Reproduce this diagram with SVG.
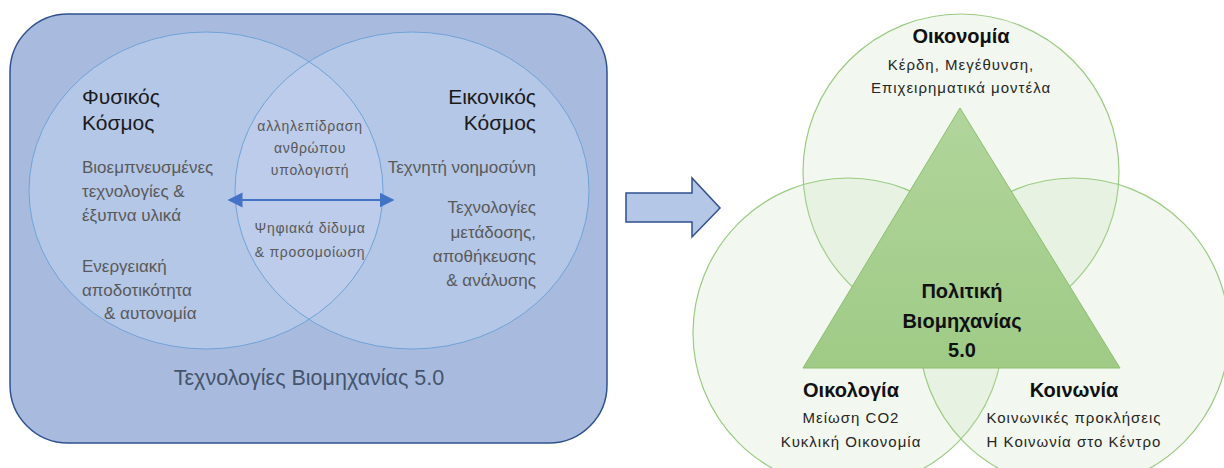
<svg xmlns="http://www.w3.org/2000/svg" width="1224" height="468" viewBox="0 0 1224 468">
<style>
text{font-family:"Liberation Sans",Arial,sans-serif}
.h{font-size:21px;fill:#1a1a1a}
.g{font-size:17px;fill:#595959}
.l{font-size:14px;fill:#595959;letter-spacing:0.7px}
.hb{font-size:20px;font-weight:bold;fill:#111}
.s{font-size:15px;fill:#262626;letter-spacing:1px}
.ell{fill:#B4C7E7}
.ellS{fill:none;stroke:#6FA3D8;stroke-width:1}
.gc{fill:#C5E0B4;fill-opacity:0.22;stroke:#9ACB82;stroke-width:1.2}
</style>
<defs>
<clipPath id="clipL"><ellipse cx="206" cy="190.5" rx="177" ry="158.5"/></clipPath>
<marker id="ah" viewBox="0 0 10 10" refX="9" refY="5" markerWidth="7.5" markerHeight="8" orient="auto-start-reverse"><path d="M0,0 L10,5 L0,10 z" fill="#4472C4"/></marker>
<linearGradient id="tri" x1="0" y1="0" x2="0" y2="1"><stop offset="0" stop-color="#B1D59B"/><stop offset="1" stop-color="#9FCB86"/></linearGradient>
</defs>

<g id="industry-technologies">
<rect x="10" y="14" width="597" height="429" rx="58" ry="58" fill="#A8BBDF" stroke="#2F528F" stroke-width="1.5"/>
<text x="309" y="385" text-anchor="middle" style="font-size:21.5px;fill:#44546A">Τεχνολογίες Βιομηχανίας 5.0</text>
</g>

<g id="physical-world">
<ellipse class="ell" cx="206" cy="190.5" rx="177" ry="158.5"/>
</g>
<g id="virtual-world">
<ellipse class="ell" cx="412" cy="190.5" rx="177" ry="158.5"/>
</g>
<g id="intersection">
<ellipse cx="412" cy="190.5" rx="177" ry="158.5" fill="#BCCCEA" clip-path="url(#clipL)"/>
<ellipse class="ellS" cx="206" cy="190.5" rx="177" ry="158.5"/>
<ellipse class="ellS" cx="412" cy="190.5" rx="177" ry="158.5"/>
</g>

<g id="physical-world-text">
<text class="h" x="82" y="104">Φυσικός</text>
<text class="h" x="82" y="130">Κόσμος</text>
<text class="g" x="82" y="173">Βιοεμπνευσμένες</text>
<text class="g" x="82" y="197">τεχνολογίες &amp;</text>
<text class="g" x="82" y="221">έξυπνα υλικά</text>
<text class="g" x="82" y="272">Ενεργειακή</text>
<text class="g" x="82" y="296">αποδοτικότητα</text>
<text class="g" x="104" y="319">&amp; αυτονομία</text>
</g>

<g id="virtual-world-text" text-anchor="end">
<text class="h" x="536" y="104">Εικονικός</text>
<text class="h" x="536" y="130">Κόσμος</text>
<text class="g" x="536" y="173">Τεχνητή νοημοσύνη</text>
<text class="g" x="536" y="213">Τεχνολογίες</text>
<text class="g" x="536" y="238">μετάδοσης,</text>
<text class="g" x="536" y="262">αποθήκευσης</text>
<text class="g" x="536" y="286">&amp; ανάλυσης</text>
</g>

<g id="intersection-text" text-anchor="middle">
<text class="l" x="310" y="131">αλληλεπίδραση</text>
<text class="l" x="310" y="153">ανθρώπου</text>
<text class="l" x="310" y="175">υπολογιστή</text>
<text class="l" x="310" y="233">Ψηφιακά δίδυμα</text>
<text class="l" x="310" y="257">&amp; προσομοίωση</text>
</g>

<g id="connectors">
<line x1="229" y1="200" x2="393" y2="200" stroke="#4472C4" stroke-width="2" marker-start="url(#ah)" marker-end="url(#ah)"/>
<path d="M626,193 L692,193 L692,178 L720,208 L692,237 L692,222 L626,222 Z" fill="#B4C7E7" stroke="#2F528F" stroke-width="1.5" stroke-linejoin="miter"/>
</g>

<g id="economy">
<circle class="gc" cx="961" cy="172" r="158"/>
</g>
<g id="ecology">
<circle class="gc" cx="848" cy="333" r="155"/>
</g>
<g id="society">
<circle class="gc" cx="1074" cy="333" r="155"/>
</g>
<g id="policy">
<path d="M960,108 L803,368 L1120,368 Z" fill="url(#tri)" stroke="#8CBF6F" stroke-width="1"/>
<text class="hb" x="962" y="298" text-anchor="middle">Πολιτική</text>
<text class="hb" x="962" y="328" text-anchor="middle">Βιομηχανίας</text>
<text class="hb" x="962" y="357" text-anchor="middle">5.0</text>
</g>
<g id="economy-text" text-anchor="middle">
<text class="hb" x="961" y="43">Οικονομία</text>
<text class="s" x="961" y="70">Κέρδη, Μεγέθυνση,</text>
<text class="s" x="961" y="93">Επιχειρηματικά μοντέλα</text>
</g>
<g id="ecology-text" text-anchor="middle">
<text class="hb" x="851" y="397">Οικολογία</text>
<text class="s" x="851" y="423">Μείωση CO2</text>
<text class="s" x="851" y="447">Κυκλική Οικονομία</text>
</g>
<g id="society-text" text-anchor="middle">
<text class="hb" x="1074" y="397">Κοινωνία</text>
<text class="s" x="1074" y="423">Κοινωνικές προκλήσεις</text>
<text class="s" x="1074" y="447">Η Κοινωνία στο Κέντρο</text>
</g>
</svg>
